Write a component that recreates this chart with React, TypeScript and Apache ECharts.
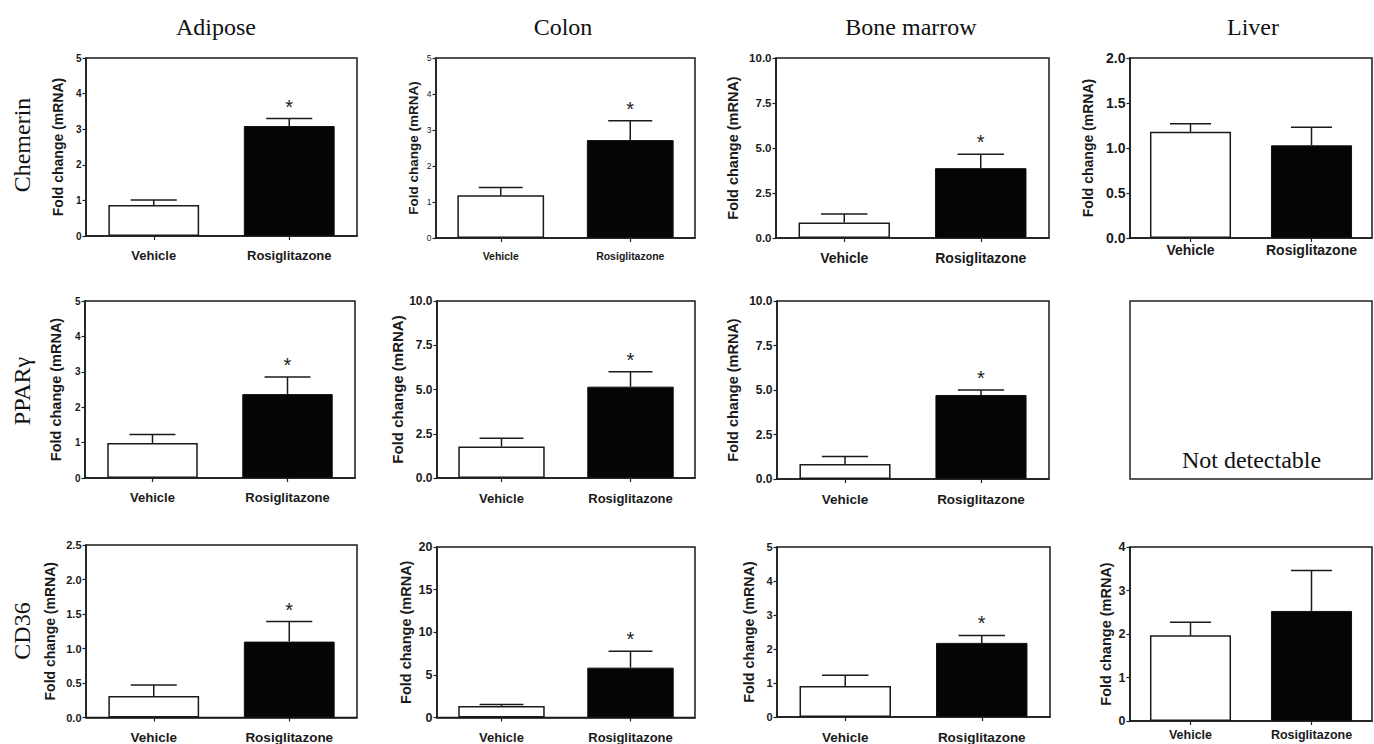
import React, { useEffect, useRef } from "react";
import * as echarts from "echarts";

const tissues = ["Adipose", "Colon", "Bone marrow", "Liver"];
const genes = ["Chemerin", "PPARγ", "CD36"];
const groups = ["Vehicle", "Rosiglitazone"];

// Mean fold change [Vehicle, Rosiglitazone] per tissue (null = not detectable)
const chemerinMean = [[0.87, 3.09], [1.19, 2.72], [0.86, 3.88], [1.18, 1.03]];
const chemerinSem = [[0.14, 0.21], [0.21, 0.54], [0.47, 0.77], [0.09, 0.2]];
const pparMean = [[0.99, 2.37], [1.78, 5.16], [0.84, 4.72], null];
const pparSem = [[0.24, 0.48], [0.47, 0.84], [0.43, 0.28], null];
const cd36Mean = [[0.31, 1.1], [1.34, 5.85], [0.91, 2.18], [1.97, 2.53]];
const cd36Sem = [[0.16, 0.29], [0.19, 1.91], [0.32, 0.22], [0.3, 0.93]];

// significance (*) on the Rosiglitazone bar
const chemerinSig = [true, true, true, false];
const pparSig = [true, true, true, false];
const cd36Sig = [true, true, true, false];

// y axis ranges
const chemerinYMax = [5, 5, 10, 2];
const chemerinYStep = [1, 1, 2.5, 0.5];
const pparYMax = [5, 10, 10, null];
const pparYStep = [1, 2.5, 2.5, null];
const cd36YMax = [2.5, 20, 5, 4];
const cd36YStep = [0.5, 5, 1, 1];

const yAxisTitle = "Fold change (mRNA)";
const notDetectable = "Not detectable";

// ---- layout (pixel boxes: left, top, right, bottom) ----
const boxes = [
  [[86, 58, 357, 236], [436, 58, 695, 238], [776, 58, 1049, 238], [1130, 58, 1372, 238]],
  [[85, 301, 355, 478], [437, 301, 695, 478], [777, 301, 1049, 479], [1130, 301, 1372, 479]],
  [[86, 545, 357, 719], [437, 547, 695, 722], [777, 547, 1050, 720], [1130, 547, 1372, 721]],
];
// [tickSize, tickBold, xSize, xBold, nameSize, nameOffset, xMargin]
const styles: any[][] = [
  [[10, 1, 13, 1, 14, 28.5, 13], [8.5, 0, 10.5, 1, 13.5, 22, 12], [11.5, 1, 14, 1, 14.5, 42.5, 13], [14, 1, 14, 1, 14, 42, 5]],
  [[10, 1, 13, 1, 14.5, 28.5, 12.5], [12, 1, 13, 1, 15, 39.5, 13.5], [12, 1, 13.5, 1, 14.5, 44, 13], null],
  [[11, 1, 13.5, 1, 14, 36.5, 12.5], [12.5, 1, 13, 1, 14.5, 31, 13.5], [11, 1, 13.5, 1, 14.3, 28, 13], [12.5, 1, 12.5, 1, 14.5, 24, 7]],
];
const titlePos = [[216, 27], [563, 27], [911, 27], [1253, 27]];
const rowLabelPos = [[22, 145], [22, 391], [22, 631]];

const SANS = "'Liberation Sans', Arial, Helvetica, sans-serif";
const SERIF = "'Liberation Serif', 'Times New Roman', serif";
const INK = "#111";

export default function App() {
  const ref = useRef<HTMLDivElement>(null);

  useEffect(() => {
    if (!ref.current) return;
    const chart = echarts.init(ref.current, null, { renderer: "svg" });

    const means = [chemerinMean, pparMean, cd36Mean];
    const sems = [chemerinSem, pparSem, cd36Sem];
    const sigs = [chemerinSig, pparSig, cd36Sig];
    const ymaxs = [chemerinYMax, pparYMax, cd36YMax];
    const ysteps = [chemerinYStep, pparYStep, cd36YStep];

    const grid: any[] = [];
    const xAxis: any[] = [];
    const yAxis: any[] = [];
    const series: any[] = [];
    const graphic: any[] = [];

    let idx = 0;
    for (let r = 0; r < genes.length; r++) {
      for (let c = 0; c < tissues.length; c++) {
        const b = boxes[r][c];
        const m = means[r][c];
        if (!m) {
          graphic.push({
            type: "rect",
            shape: { x: b[0], y: b[1], width: b[2] - b[0], height: b[3] - b[1] },
            style: { fill: "none", stroke: "#222", lineWidth: 1.5 },
          });
          graphic.push({
            type: "text",
            x: (b[0] + b[2]) / 2 + 0.5,
            y: b[3] - 19,
            style: {
              text: notDetectable,
              fontSize: 24,
              fontFamily: SERIF,
              fill: INK,
              align: "center",
              textAlign: "center",
              verticalAlign: "middle",
              textVerticalAlign: "middle",
            },
          });
          continue;
        }
        const s = sems[r][c]!;
        const st = styles[r][c];
        const [tickSize, tickBold, xSize, xBold, nameSize, nameOffset, xMargin] = st;
        const step = ysteps[r][c]!;
        const decimals = Number.isInteger(step) ? 0 : 1;

        grid.push({
          left: b[0],
          top: b[1],
          width: b[2] - b[0],
          height: b[3] - b[1],
          show: true,
          borderColor: "#1a1a1a",
          borderWidth: 1.5,
          backgroundColor: "transparent",
          containLabel: false,
        });
        xAxis.push({
          type: "category",
          gridIndex: idx,
          data: groups,
          axisLine: { show: true, lineStyle: { color: "#1a1a1a", width: 1.5 } },
          axisTick: { show: true, alignWithLabel: true, length: 4, lineStyle: { color: "#222", width: 1.2 } },
          axisLabel: {
            margin: xMargin,
            fontSize: xSize,
            fontWeight: xBold ? "bold" : "normal",
            fontFamily: SANS,
            color: "#1a1a1a",
          },
          splitLine: { show: false },
        });
        yAxis.push({
          type: "value",
          gridIndex: idx,
          min: 0,
          max: ymaxs[r][c],
          interval: step,
          name: yAxisTitle,
          nameLocation: "middle",
          nameRotate: 90,
          nameGap: nameOffset - nameSize / 2,
          nameTextStyle: { fontSize: nameSize, fontWeight: "bold", fontFamily: SANS, color: "#1a1a1a" },
          axisLine: { show: true, lineStyle: { color: "#1a1a1a", width: 1.5 } },
          axisTick: { show: true, length: 3.5, lineStyle: { color: "#222", width: 1.2 } },
          axisLabel: {
            margin: 4.5,
            fontSize: tickSize,
            fontWeight: tickBold ? "bold" : "normal",
            fontFamily: SANS,
            color: "#1a1a1a",
            formatter: (v: number) => v.toFixed(decimals),
          },
          splitLine: { show: false },
        });
        series.push({
          type: "bar",
          xAxisIndex: idx,
          yAxisIndex: idx,
          barWidth: "67%",
          data: [
            { value: m[0], itemStyle: { color: "#ffffff", borderColor: "#1a1a1a", borderWidth: 1.5 } },
            { value: m[1], itemStyle: { color: "#050505", borderColor: "#111", borderWidth: 1 } },
          ],
          z: 2,
        });
        series.push({
          type: "custom",
          xAxisIndex: idx,
          yAxisIndex: idx,
          z: 3,
          encode: { x: 0, y: 1 },
          data: [
            [0, m[0], s[0], 0],
            [1, m[1], s[1], sigs[r][c] ? 1 : 0],
          ],
          renderItem: (params: any, api: any) => {
            const x = api.value(0);
            const mean = api.value(1);
            const sem = api.value(2);
            const sig = api.value(3);
            const base = api.coord([x, mean]);
            const top = api.coord([x, mean + sem]);
            const band = api.size([1, 0])[0];
            const half = band * 0.17;
            const children: any[] = [
              {
                type: "line",
                shape: { x1: base[0], y1: base[1], x2: top[0], y2: top[1] },
                style: { stroke: "#1a1a1a", lineWidth: 1.5 },
              },
              {
                type: "line",
                shape: { x1: top[0] - half, y1: top[1], x2: top[0] + half, y2: top[1] },
                style: { stroke: "#1a1a1a", lineWidth: 1.5 },
              },
            ];
            if (sig) {
              children.push({
                type: "text",
                x: top[0],
                y: top[1] - 12,
                style: {
                  text: "*",
                  fontSize: 20,
                  fontFamily: SANS,
                  fill: "#222",
                  align: "center",
                  verticalAlign: "middle",
                },
              });
            }
            return { type: "group", children };
          },
        });
        idx++;
      }
    }

    tissues.forEach((t, i) => {
      graphic.push({
        type: "text",
        x: titlePos[i][0],
        y: titlePos[i][1],
        style: {
          text: t,
          fontSize: 24,
          fontFamily: SERIF,
          fill: INK,
          align: "center",
          textAlign: "center",
          verticalAlign: "middle",
          textVerticalAlign: "middle",
        },
      });
    });
    genes.forEach((g, i) => {
      graphic.push({
        type: "text",
        x: rowLabelPos[i][0],
        y: rowLabelPos[i][1],
        rotation: Math.PI / 2,
        style: {
          text: g,
          fontSize: 24,
          fontFamily: SERIF,
          fill: INK,
          align: "center",
          textAlign: "center",
          verticalAlign: "middle",
          textVerticalAlign: "middle",
        },
      });
    });

    chart.setOption({
      animation: false,
      backgroundColor: "#ffffff",
      grid,
      xAxis,
      yAxis,
      series,
      graphic,
    });

    return () => {
      chart.dispose();
    };
  }, []);

  return (
    <div
      ref={ref}
      style={{ position: "fixed", left: 0, top: 0, width: 1374, height: 744, background: "#fff" }}
    />
  );
}
